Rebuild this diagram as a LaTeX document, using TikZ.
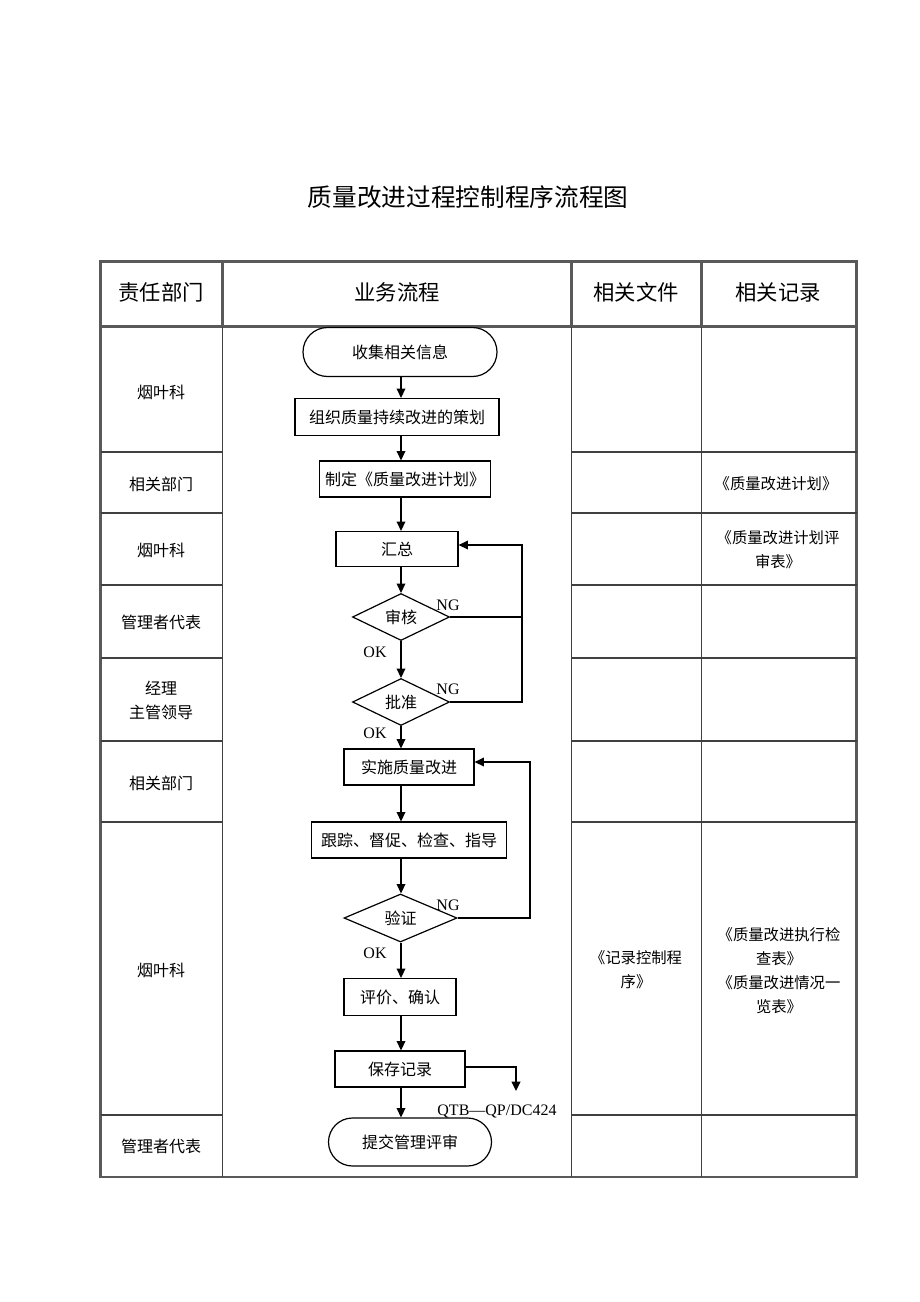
\documentclass[tikz,border=0pt]{standalone}
\usepackage{fontspec}
\setmainfont{Liberation Serif}
\newfontfamily\cjk{Noto Sans CJK SC}
\usetikzlibrary{shapes.geometric, shapes.misc, arrows.meta}

\tikzset{
  frame/.style={draw=black!65, line width=2.2pt},
  grid/.style={draw=black!75, line width=0.9pt},
  head/.style={font=\cjk\fontsize{16}{18}\selectfont},
  dept/.style={font=\cjk\fontsize{12}{18}\selectfont, align=center},
  rec/.style={font=\cjk\fontsize{11.5}{18}\selectfont, align=center},
  flowbox/.style={draw, line width=0.9pt, inner sep=0pt, font=\cjk\fontsize{12}{14}\selectfont},
  term/.style={flowbox, rounded rectangle},
  decision/.style={flowbox, diamond, aspect=2},
  tag/.style={font=\fontsize{12}{14}\selectfont, inner sep=0pt}
}

\begin{document}
\begin{tikzpicture}[x=0.75pt, y=-0.75pt, >={Triangle[length=7pt, width=6.5pt]}, line width=1.1pt]
  \useasboundingbox (0,0) rectangle (920,1302);

  \node[font=\cjk\fontsize{18.5}{20}\selectfont] (title) at (468,197) {质量改进过程控制程序流程图};

  % table
  \draw[frame] (100.5,261.5) rectangle (856.5,1177);
  \draw[frame] (100.5,326.5) -- (856.5,326.5);
  \foreach \x in {222.5,571.5,701.5} {
    \draw[frame] (\x,261.5) -- (\x,326.5);
    \draw[grid] (\x,326.5) -- (\x,1177);
  }
  \foreach \y in {452,513,585,658,822,1115} {
    \draw[grid] (100.5,\y) -- (222.5,\y);
    \draw[grid] (571.5,\y) -- (856.5,\y);
  }
  \draw[grid, line width=1.5pt] (100.5,741) -- (222.5,741);
  \draw[grid, line width=1.5pt] (571.5,741) -- (856.5,741);

  \node[head] (h1) at (161,292) {责任部门};
  \node[head] (h2) at (397,292) {业务流程};
  \node[head] (h3) at (636,292) {相关文件};
  \node[head] (h4) at (778,292) {相关记录};

  \node[dept] (d1) at (161,392) {烟叶科};
  \node[dept] (d2) at (161,484) {相关部门};
  \node[dept] (d3) at (161,550) {烟叶科};
  \node[dept] (d4) at (161,622) {管理者代表};
  \node[dept] (d5) at (161,700) {经理\\主管领导};
  \node[dept] (d6) at (161,783) {相关部门};
  \node[dept] (d7) at (161,970) {烟叶科};
  \node[dept] (d8) at (161,1146) {管理者代表};

  \node[rec] (r1) at (776,484) {《质量改进计划》};
  \node[rec] (r2) at (778,550) {《质量改进计划评\\审表》};
  \node[rec] (f1) at (636,970) {《记录控制程\\序》};
  \node[rec] (r3) at (779,971) {《质量改进执行检\\查表》\\《质量改进情况一\\览表》};

  % flow
  \coordinate (spine) at (401,0);
  \node[term, minimum width=145.5pt, minimum height=36.75pt] (collect) at (400,352) {收集相关信息};
  \node[flowbox, minimum width=153pt, minimum height=27.75pt] (plan) at (397,417) {组织质量持续改进的策划};
  \node[flowbox, minimum width=128.25pt, minimum height=27pt] (make) at (405,479) {制定《质量改进计划》};
  \node[flowbox, minimum width=91.5pt, minimum height=26.25pt] (sum) at (397,549) {汇总};
  \node[decision, minimum width=72.75pt, minimum height=35.25pt] (audit) at (401,617) {审核};
  \node[decision, minimum width=72.75pt, minimum height=35.25pt] (approve) at (401,702) {批准};
  \node[flowbox, minimum width=97.5pt, minimum height=27pt] (apply) at (409,767) {实施质量改进};
  \node[flowbox, minimum width=146.25pt, minimum height=27pt] (track) at (409,840) {跟踪、督促、检查、指导};
  \node[decision, minimum width=84.75pt, minimum height=36pt] (verify) at (400.5,918) {验证};
  \node[flowbox, minimum width=84pt, minimum height=27.75pt] (judge) at (400,997) {评价、确认};
  \node[flowbox, minimum width=97.5pt, minimum height=27pt] (save) at (400,1069) {保存记录};
  \node[term, minimum width=122.25pt, minimum height=36pt] (submit) at (410,1142) {提交管理评审};

  \draw[->] (collect.south -| spine) -- (plan.north -| spine);
  \draw[->] (plan.south -| spine) -- (make.north -| spine);
  \draw[->] (make.south -| spine) -- (sum.north -| spine);
  \draw[->] (sum.south -| spine) -- (audit.north);
  \draw[->] (audit.south) -- (approve.north);
  \draw[->] (approve.south) -- (apply.north -| spine);
  \draw[->] (apply.south -| spine) -- (track.north -| spine);
  \draw[->] (track.south -| spine) -- (verify.north -| spine);
  \draw[->] (verify.south -| spine) -- (judge.north -| spine);
  \draw[->] (judge.south -| spine) -- (save.north -| spine);
  \draw[->] (save.south -| spine) -- (submit.north -| spine);

  \coordinate (fb1) at (522,545);
  \draw (audit.east) -- (audit.east -| fb1);
  \draw[->] (approve.east) -| (fb1) -- (fb1 -| sum.east);
  \coordinate (fb2) at (530,762);
  \draw[->] (verify.east) -| (fb2) -- (fb2 -| apply.east);
  \coordinate (fb3) at (516,1067);
  \coordinate (qtbend) at (516,1091);
  \draw[->] (save.east |- fb3) -| (qtbend);

  \node[tag] (ng1) at (448,605) {NG};
  \node[tag] (ok1) at (375,652) {OK};
  \node[tag] (ng2) at (448,689) {NG};
  \node[tag] (ok2) at (375,733) {OK};
  \node[tag] (ng3) at (448,905) {NG};
  \node[tag] (ok3) at (375,953) {OK};
  \node[tag] (qtb) at (497,1111) {QTB—QP/DC424};
\end{tikzpicture}
\end{document}
